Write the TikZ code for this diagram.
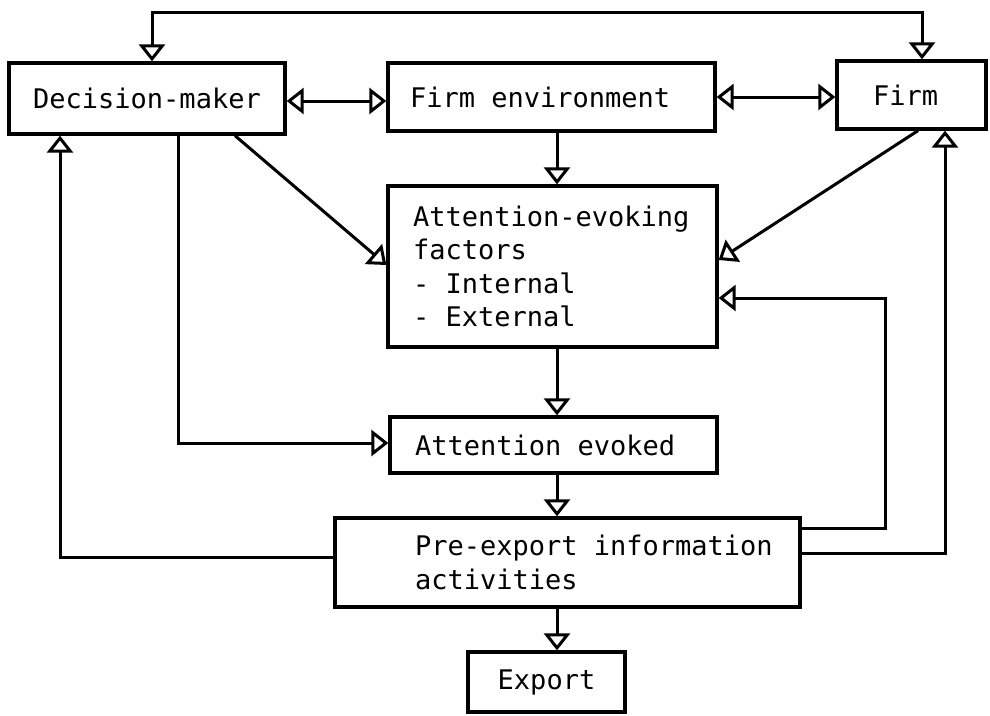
\documentclass[tikz,border=0pt]{standalone}
\usepackage{fontspec}
\setmonofont{DejaVu Sans Mono}
\usetikzlibrary{arrows.meta,calc}
\newcommand\msp{\hphantom{x}}
\newcommand\boxtext[3]{\begin{minipage}{#1}\leftskip=#2\relax\noindent #3\end{minipage}}
\newcommand\boxctext[2]{\begin{minipage}{#1}\centering #2\end{minipage}}
\tikzset{
  box/.style={draw, line width=3.3pt, rectangle, inner xsep=0pt, inner ysep=0pt, font=\ttfamily\fontsize{27}{33.5}\selectfont},
  conn/.style={line width=3pt},
  tri/.tip={Triangle[open, length=17pt, width=26pt, line width=3pt]},
  arr/.style={conn, -{tri}},
  darr/.style={conn, {tri}-{tri}}
}
\begin{document}
\begin{tikzpicture}[x=1pt,y=1pt]
\useasboundingbox (0,0) rectangle (990,-715);
% boxes
\node[box, minimum height=71pt] (dm) at (147,-98.5) {\boxctext{276pt}{Decision-maker}};
\node[box, minimum height=68pt] (fe) at (551.5,-97) {\boxtext{327pt}{22pt}{Firm\msp environment}};
\node[box, minimum height=68pt] (firm) at (911.5,-95) {\boxtext{149pt}{36pt}{Firm}};
\node[box, minimum height=161pt] (aef) at (552.5,-266.5) {\boxtext{329pt}{25pt}{Attention-evoking\\factors\\-\msp Internal\\-\msp External}};
\node[box, minimum height=56pt] (ae) at (553.5,-445) {\boxtext{327pt}{25pt}{Attention\msp evoked}};
\node[box, minimum height=89pt] (peia) at (567.5,-562.5) {\boxtext{465pt}{80pt}{Pre-export\msp information\\activities}};
\node[box, minimum height=60pt] (export) at (546.5,-682) {\boxctext{157pt}{Export}};
% helper coordinates
\coordinate (top) at (500,-12);
\coordinate (fb) at (885,-298);
% connectors
\draw[darr] ([xshift=5pt]dm.north) |- (top) -| ([xshift=10.5pt]firm.north);
\draw[darr] ([yshift=-2.5pt]dm.east) -- ([yshift=-2.5pt]dm.east -| fe.west);
\draw[darr] (fe.east) -- (fe.east -| firm.west);
\draw[arr] ([xshift=5.5pt]fe.south) -- ([xshift=5.5pt]fe.south |- aef.north);
\draw[arr] ([xshift=88pt]dm.south) -- ([yshift=1.5pt]aef.west);
\draw[arr] ([xshift=6.5pt]firm.south) -- ([yshift=6.5pt]aef.east);
\draw[arr] ([xshift=31pt]dm.south) |- ([yshift=2pt]ae.west);
\draw[arr] ([yshift=5.5pt]peia.west) -| ([xshift=-87pt]dm.south);
\draw[arr] ([yshift=9.5pt]peia.east) -| ([xshift=33.5pt]firm.south);
\draw[arr] ([yshift=34.5pt]peia.east) -| (fb) -- (fb -| aef.east);
\draw[arr] ([xshift=4.5pt]aef.south) -- ([xshift=4.5pt]aef.south |- ae.north);
\draw[arr] ([xshift=3.5pt]ae.south) -- ([xshift=3.5pt]ae.south |- peia.north);
\draw[arr] ([xshift=-10.5pt]peia.south) -- ([xshift=-10.5pt]peia.south |- export.north);
\end{tikzpicture}
\end{document}
